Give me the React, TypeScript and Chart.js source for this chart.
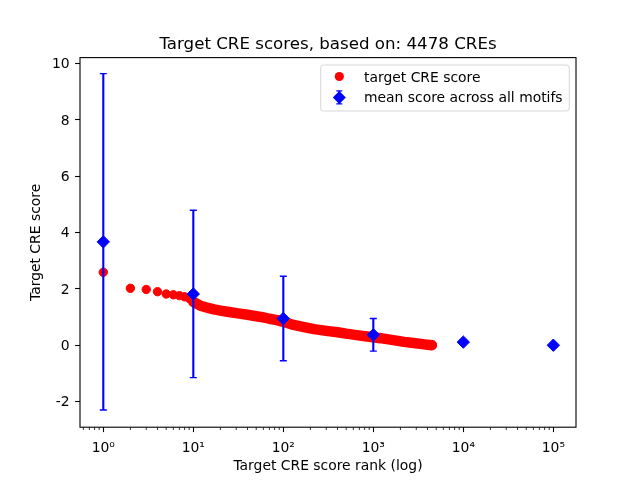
import { useEffect, useRef } from "react";
import { Chart, registerables } from "chart.js";

Chart.register(...registerables);

const TITLE = "Target CRE scores, based on: 4478 CREs";
const X_LABEL = "Target CRE score rank (log)";
const Y_LABEL = "Target CRE score";
const RED_LABEL = "target CRE score";
const BLUE_LABEL = "mean score across all motifs";

// target CRE score (rank -> score)
const redRanks = [1, 2, 3, 4, 5, 6, 7, 8, 9, 10, 11, 12, 14, 17, 20, 25, 30, 40, 50, 60, 70, 85, 100, 130, 170, 220, 300, 400, 500, 650, 900, 1200, 1600, 2200, 2800, 3500, 4478];
const redScores = [2.59, 2.02, 1.98, 1.9, 1.82, 1.79, 1.76, 1.72, 1.66, 1.54, 1.47, 1.4, 1.34, 1.27, 1.23, 1.18, 1.14, 1.08, 1.03, 0.99, 0.94, 0.89, 0.83, 0.72, 0.64, 0.57, 0.51, 0.46, 0.41, 0.36, 0.3, 0.25, 0.19, 0.12, 0.08, 0.04, 0.0];

// mean score across all motifs with error bars
const meanRanks = [1, 10, 100, 1000, 10000, 100000];
const meanScores = [3.67, 1.82, 0.95, 0.37, 0.11, 0.0];
const meanErrors = [5.97, 2.97, 1.5, 0.58, 0.04, 0.0];

const yTicks = [-2, 0, 2, 4, 6, 8, 10];
const xTickValues = [1, 10, 100, 1000, 10000, 100000];
const xTickLabels = ["10⁰", "10¹", "10²", "10³", "10⁴", "10⁵"];

const RED = "#ff0000";
const BLUE = "#0000ff";
const FONT = "DejaVu Sans";
const FS = 13.9;

const errorBarPlugin = {
  id: "errorBars",
  beforeDatasetDraw(chart: any, args: any) {
    if (args.index !== 1) return;
    const { ctx, scales } = chart;
    const x = scales.x;
    const y = scales.y;
    ctx.save();
    ctx.strokeStyle = BLUE;
    meanRanks.forEach((r, i) => {
      const e = meanErrors[i];
      if (!e) return;
      const px = x.getPixelForValue(r);
      const top = y.getPixelForValue(meanScores[i] + e);
      const bot = y.getPixelForValue(meanScores[i] - e);
      ctx.lineWidth = 2.1;
      ctx.beginPath();
      ctx.moveTo(px, top);
      ctx.lineTo(px, bot);
      ctx.stroke();
      ctx.lineWidth = 1.4;
      ctx.beginPath();
      ctx.moveTo(px - 3.5, top);
      ctx.lineTo(px + 3.5, top);
      ctx.moveTo(px - 3.5, bot);
      ctx.lineTo(px + 3.5, bot);
      ctx.stroke();
    });
    ctx.restore();
  },
};

const decorPlugin = {
  id: "decor",
  afterDraw(chart: any) {
    const { ctx, chartArea } = chart;
    const { left, right, top, bottom } = chartArea;
    const x = chart.scales.x;
    ctx.save();
    // frame
    ctx.strokeStyle = "#000";
    ctx.lineWidth = 1.1;
    ctx.strokeRect(left, top, right - left, bottom - top);
    // minor ticks on log axis
    ctx.lineWidth = 0.8;
    ctx.beginPath();
    for (let d = -1; d <= 5; d++) {
      for (let m = 2; m <= 9; m++) {
        const v = m * Math.pow(10, d);
        if (v < x.min || v > x.max) continue;
        const px = x.getPixelForValue(v);
        ctx.moveTo(px, bottom);
        ctx.lineTo(px, bottom + 2.8);
      }
    }
    ctx.stroke();
    // title
    ctx.fillStyle = "#000";
    ctx.font = `16.67px "${FONT}"`;
    ctx.textAlign = "center";
    ctx.textBaseline = "alphabetic";
    ctx.fillText(TITLE, (left + right) / 2, top - 8.3);
    // legend
    const lx1 = right - 255.3;
    const lx2 = right - 6.7;
    const ly1 = top + 7.4;
    const ly2 = top + 53.4;
    const rr = 3;
    ctx.beginPath();
    ctx.moveTo(lx1 + rr, ly1);
    ctx.lineTo(lx2 - rr, ly1);
    ctx.quadraticCurveTo(lx2, ly1, lx2, ly1 + rr);
    ctx.lineTo(lx2, ly2 - rr);
    ctx.quadraticCurveTo(lx2, ly2, lx2 - rr, ly2);
    ctx.lineTo(lx1 + rr, ly2);
    ctx.quadraticCurveTo(lx1, ly2, lx1, ly2 - rr);
    ctx.lineTo(lx1, ly1 + rr);
    ctx.quadraticCurveTo(lx1, ly1, lx1 + rr, ly1);
    ctx.closePath();
    ctx.fillStyle = "rgba(255,255,255,0.8)";
    ctx.fill();
    ctx.strokeStyle = "rgba(204,204,204,0.8)";
    ctx.lineWidth = 1;
    ctx.stroke();

    const mx = lx1 + 18.6;
    const y1 = ly1 + 11.5;
    const y2 = ly1 + 32.4;
    ctx.fillStyle = RED;
    ctx.beginPath();
    ctx.arc(mx, y1, 4.6, 0, Math.PI * 2);
    ctx.fill();

    ctx.strokeStyle = BLUE;
    ctx.lineWidth = 2;
    ctx.beginPath();
    ctx.moveTo(mx, y2 - 6.5);
    ctx.lineTo(mx, y2 + 6.5);
    ctx.stroke();
    ctx.lineWidth = 1.4;
    ctx.beginPath();
    ctx.moveTo(mx - 3, y2 - 6.5);
    ctx.lineTo(mx + 3, y2 - 6.5);
    ctx.moveTo(mx - 3, y2 + 6.5);
    ctx.lineTo(mx + 3, y2 + 6.5);
    ctx.stroke();
    ctx.fillStyle = BLUE;
    ctx.beginPath();
    ctx.moveTo(mx - 6.5, y2);
    ctx.lineTo(mx, y2 - 6.5);
    ctx.lineTo(mx + 6.5, y2);
    ctx.lineTo(mx, y2 + 6.5);
    ctx.closePath();
    ctx.fill();

    ctx.fillStyle = "#000";
    ctx.font = `${FS}px "${FONT}"`;
    ctx.textAlign = "left";
    ctx.textBaseline = "alphabetic";
    const labels = chart.data.datasets.map((d: any) => d.label);
    ctx.fillText(labels[0], lx1 + 43.3, y1 + 5);
    ctx.fillText(labels[1], lx1 + 43.3, y2 + 5);
    ctx.restore();
  },
};

export default function App() {
  const ref = useRef<HTMLCanvasElement | null>(null);

  useEffect(() => {
    if (!ref.current) return;
    Chart.defaults.font.family = FONT;
    Chart.defaults.color = "#000";
    const chart = new Chart(ref.current, {
      type: "scatter",
      data: {
        datasets: [
          {
            label: RED_LABEL,
            data: redRanks.map((r, i) => ({ x: r, y: redScores[i] })),
            showLine: true,
            borderColor: RED,
            borderWidth: 10.5,
            borderCapStyle: "round",
            borderJoinStyle: "round",
            backgroundColor: RED,
            pointRadius: 4.2,
            pointBorderWidth: 1,
            pointBackgroundColor: RED,
            pointBorderColor: RED,
            order: 2,
            segment: {
              borderColor: (c: any) => (c.p0DataIndex < 9 ? "rgba(0,0,0,0)" : RED),
            },
          } as any,
          {
            label: BLUE_LABEL,
            data: meanRanks.map((r, i) => ({ x: r, y: meanScores[i] })),
            showLine: false,
            pointStyle: "rectRot",
            pointRadius: 6.2,
            pointBorderWidth: 1,
            pointBackgroundColor: BLUE,
            pointBorderColor: BLUE,
            order: 1,
          } as any,
        ],
      },
      options: {
        animation: false,
        responsive: false,
        events: [],
        layout: { padding: { left: 0, right: 64, top: 57.6, bottom: 0 } },
        plugins: {
          legend: { display: false },
          title: { display: false },
          tooltip: { enabled: false },
        },
        scales: {
          x: {
            type: "logarithmic",
            min: 0.551,
            max: 178600,
            afterBuildTicks: (s: any) => {
              s.ticks = xTickValues.map((v) => ({ value: v }));
            },
            afterFit: (s: any) => {
              s.height = 52.8;
            },
            ticks: {
              autoSkip: false,
              maxRotation: 0,
              padding: 7.5,
              font: { size: FS },
              color: "#000",
              callback: (_v: any, i: number) => xTickLabels[i],
            },
            grid: {
              display: true,
              drawOnChartArea: false,
              drawTicks: true,
              tickLength: 4.9,
              tickColor: "#000",
              tickWidth: 1.1,
            },
            border: { display: false },
            title: {
              display: true,
              text: X_LABEL,
              font: { size: FS },
              color: "#000",
              padding: { top: 0, bottom: 5.5 },
            },
          },
          y: {
            type: "linear",
            min: -2.91,
            max: 10.21,
            afterBuildTicks: (s: any) => {
              s.ticks = yTicks.map((v) => ({ value: v }));
            },
            afterFit: (s: any) => {
              s.width = 80;
            },
            ticks: {
              padding: 5.5,
              labelOffset: 1.2,
              font: { size: FS },
              color: "#000",
              callback: (v: any) => String(v),
            },
            grid: {
              display: true,
              drawOnChartArea: false,
              drawTicks: true,
              tickLength: 4.9,
              tickColor: "#000",
              tickWidth: 1.1,
            },
            border: { display: false },
            title: {
              display: true,
              text: Y_LABEL,
              font: { size: FS },
              color: "#000",
              padding: { top: 27.7, bottom: 0 },
            },
          },
        },
      } as any,
      plugins: [errorBarPlugin, decorPlugin],
    });
    return () => chart.destroy();
  }, []);

  return (
    <div style={{ position: "absolute", left: 0, top: 0, width: 640, height: 480, background: "#fff" }}>
      <canvas ref={ref} width={640} height={480} />
    </div>
  );
}
